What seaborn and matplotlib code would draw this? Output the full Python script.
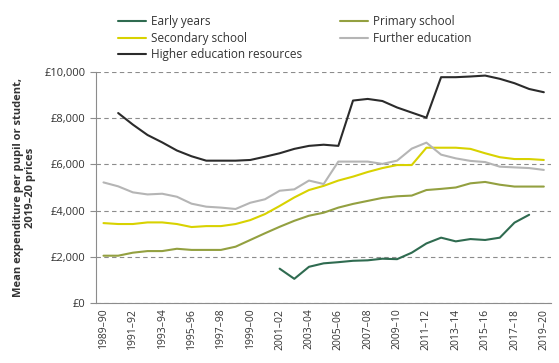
import numpy as np
import pandas as pd
import seaborn as sns
import matplotlib.pyplot as plt
from matplotlib.ticker import FuncFormatter, MultipleLocator

years = [f"{y}–{str(y + 1)[-2:]}" for y in range(1989, 2020)]

early_years = [None] * 12 + [1490, 1050, 1570, 1720, 1770, 1830, 1850, 1920, 1900,
                             2180, 2580, 2830, 2670, 2770, 2730, 2830, 3480, 3820, None]
primary = [2050, 2050, 2180, 2250, 2250, 2350, 2300, 2300, 2300, 2440, 2730, 3020,
           3300, 3560, 3780, 3910, 4130, 4290, 4420, 4550, 4620, 4650, 4890, 4940,
           5000, 5180, 5240, 5120, 5040, 5040, 5040]
secondary = [3460, 3420, 3420, 3490, 3490, 3420, 3290, 3330, 3330, 3420, 3590, 3850,
             4200, 4570, 4890, 5070, 5300, 5470, 5670, 5840, 5970, 5970, 6720, 6720,
             6720, 6670, 6480, 6310, 6230, 6230, 6190]
further = [5220, 5050, 4790, 4700, 4730, 4600, 4300, 4170, 4130, 4070, 4340, 4490,
           4860, 4920, 5300, 5150, 6120, 6120, 6120, 6020, 6160, 6680, 6940, 6420,
           6260, 6150, 6100, 5900, 5870, 5840, 5760]
higher = [None, 8220, 7720, 7270, 6950, 6600, 6350, 6160, 6160, 6160, 6190, 6330,
          6480, 6670, 6800, 6850, 6800, 8760, 8830, 8740, 8460, 8240, 8020, 9770,
          9770, 9800, 9840, 9700, 9510, 9260, 9120]

series = {
    "Early years": early_years,
    "Primary school": primary,
    "Secondary school": secondary,
    "Further education": further,
    "Higher education resources": higher,
}
colors = ["#2f6b50", "#93a040", "#d8d200", "#b5b5b5", "#2b2b2b"]

rows = []
for name, vals in series.items():
    for i, v in enumerate(vals):
        if v is not None:
            rows.append({"idx": i, "value": v, "series": name})
df = pd.DataFrame(rows)

sns.set_style("white")
plt.rcParams["font.family"] = ["Open Sans", "DejaVu Sans"]

fig, ax = plt.subplots(figsize=(5.59, 3.63), dpi=100)
fig.subplots_adjust(left=0.172, right=0.986, top=0.802, bottom=0.165)

sns.lineplot(data=df, x="idx", y="value", hue="series", hue_order=list(series),
             palette=colors, linewidth=1.5, ax=ax)

ax.set_xlim(-0.5, 30.5)
ax.set_ylim(0, 10000)
ax.yaxis.set_major_locator(MultipleLocator(2000))
ax.yaxis.set_major_formatter(FuncFormatter(lambda v, p: f"£{int(v):,}"))
ax.grid(axis="y", linestyle=(0, (4, 3)), color="#8c8c8c", linewidth=0.8)
ax.set_axisbelow(True)

ax.set_xticks(range(0, 31, 2))
ax.set_xticklabels(years[::2], rotation=90, fontsize=7.5, color="#333333")
ax.set_xticks(np.arange(-0.5, 31, 1), minor=True)
ax.tick_params(axis="x", which="major", length=0, pad=4)
ax.tick_params(axis="x", which="minor", length=4, color="#8c8c8c", width=0.8)
ax.tick_params(axis="y", length=4, color="#8c8c8c", width=0.8, labelsize=8,
               labelcolor="#333333", left=True)

for s in ["top", "right"]:
    ax.spines[s].set_visible(False)
for s in ["left", "bottom"]:
    ax.spines[s].set_color("#8c8c8c")
    ax.spines[s].set_linewidth(0.8)

ax.set_xlabel("")
ax.set_ylabel("Mean expenditure per pupil or student,\n2019–20 prices",
              fontsize=8, fontweight="bold", color="#333333", labelpad=6)

# matplotlib fills legend columns first; reorder so it reads row by row
handles, labels = ax.get_legend_handles_labels()
order = [0, 2, 4, 1, 3]
ax.legend([handles[i] for i in order], [labels[i] for i in order],
          loc="lower left", bbox_to_anchor=(0.025, 1.0), ncol=2, frameon=False,
          fontsize=8.5, handlelength=2.4, columnspacing=3.2, labelspacing=0.3,
          handletextpad=0.4, labelcolor="#333333")

plt.savefig("out.png", dpi=100)
plt.close()
